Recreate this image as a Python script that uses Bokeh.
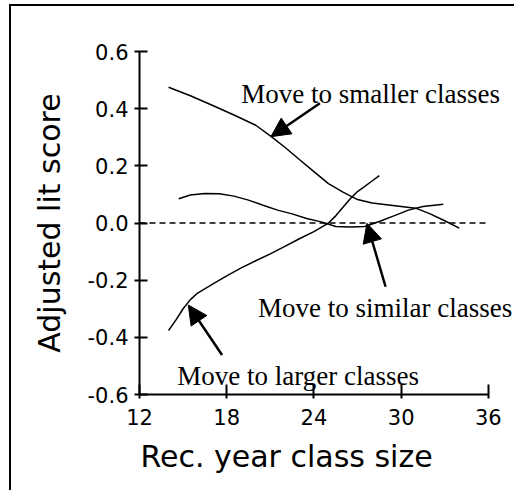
from bokeh.plotting import figure
from bokeh.models import Range1d, FixedTicker, Arrow, NormalHead, Label, Title
from bokeh.embed import file_html
from bokeh.resources import INLINE

# ---- data ----
x_ticks = [12, 18, 24, 30, 36]
y_ticks = [-0.6, -0.4, -0.2, 0.0, 0.2, 0.4, 0.6]
y_tick_labels = ["-0.6", "-0.4", "-0.2", "0.0", "0.2", "0.4", "0.6"]

smaller_x = [14.0, 15.5, 17.0, 18.5, 20.0, 21.0, 22.0, 23.0, 24.0, 25.0, 26.0, 27.0, 28.0, 29.0, 30.0, 31.0, 32.0, 33.0, 34.0]
smaller_y = [0.475, 0.445, 0.412, 0.378, 0.342, 0.305, 0.265, 0.222, 0.180, 0.138, 0.108, 0.082, 0.070, 0.064, 0.058, 0.052, 0.032, 0.008, -0.018]

similar_x = [14.7, 15.5, 16.5, 17.5, 18.5, 19.5, 20.5, 21.5, 22.5, 23.5, 24.5, 25.5, 26.5, 27.5, 28.5, 29.5, 30.5, 31.5, 32.9]
similar_y = [0.085, 0.098, 0.103, 0.102, 0.094, 0.080, 0.062, 0.045, 0.032, 0.016, 0.004, -0.012, -0.014, -0.012, 0.005, 0.025, 0.045, 0.058, 0.066]

larger_x = [14.0, 14.5, 15.0, 15.5, 16.0, 17.0, 18.0, 19.0, 20.0, 21.0, 22.0, 23.0, 24.0, 24.5, 25.0, 25.5, 26.0, 26.5, 27.0, 27.5, 28.0, 28.5]
larger_y = [-0.376, -0.34, -0.30, -0.268, -0.245, -0.215, -0.185, -0.157, -0.132, -0.108, -0.082, -0.055, -0.030, -0.015, 0.0, 0.025, 0.055, 0.085, 0.110, 0.128, 0.147, 0.166]

zero_x = [12, 35.9]
zero_y = [0.0, 0.0]

label_texts = ["Move to smaller classes", "Move to similar classes", "Move to larger classes"]
label_x = [19.0, 20.15, 14.6]
label_y = [0.453, -0.299, -0.537]

arrow_x_start = [24.41, 28.93, 17.68]
arrow_y_start = [0.419, -0.223, -0.462]
arrow_x_end = [21.04, 27.65, 15.36]
arrow_y_end = [0.302, -0.001, -0.287]

x_title = "Rec. year class size"
y_title = "Adjusted lit score"

# ---- figure ----
p = figure(width=505, height=486, output_backend="svg", toolbar_location=None,
           x_range=Range1d(12, 37.8), y_range=Range1d(-0.6, 0.6),
           min_border_left=128, min_border_right=2, min_border_top=45, min_border_bottom=98,
           y_axis_label=y_title)
p.styles = {"border-top": "2px solid black", "border-left": "2px solid black",
            "position": "relative", "left": "9px", "top": "4px"}
p.outline_line_color = None
p.xgrid.visible = False
p.ygrid.visible = False
p.background_fill_color = "white"
p.border_fill_color = "white"

for ax in (p.xaxis[0], p.yaxis[0]):
    ax.axis_line_width = 2
    ax.axis_line_color = "black"
    ax.major_tick_line_width = 2
    ax.major_tick_line_color = "black"
    ax.minor_tick_line_color = None
    ax.major_label_text_font = "DejaVu Sans"
    ax.major_label_text_font_size = "21px"
    ax.major_label_text_color = "black"
    ax.axis_label_text_font = "DejaVu Sans"
    ax.axis_label_text_font_size = "30px"
    ax.axis_label_text_font_style = "normal"
    ax.axis_label_text_color = "black"

p.xaxis.bounds = (12, 36)
p.xaxis.ticker = FixedTicker(ticks=x_ticks)
p.yaxis.ticker = FixedTicker(ticks=y_ticks)
p.yaxis.major_label_overrides = {t: l for t, l in zip(y_ticks, y_tick_labels)}
p.xaxis.major_tick_in = 10
p.xaxis.major_tick_out = 4
p.yaxis.major_tick_in = 8
p.yaxis.major_tick_out = 5
p.xaxis.major_label_standoff = 10
p.yaxis.major_label_standoff = 6
p.yaxis.axis_label_standoff = 18

p.add_layout(Title(text=x_title, align="left", offset=1, standoff=19,
                   text_font="DejaVu Sans", text_font_size="30px",
                   text_font_style="normal", text_color="black"), "below")

p.line(zero_x, zero_y, line_color="black", line_width=1.5, line_dash="6 4")
p.line(smaller_x, smaller_y, line_color="black", line_width=1.5)
p.line(similar_x, similar_y, line_color="black", line_width=1.5)
p.line(larger_x, larger_y, line_color="black", line_width=1.5)

for lx, ly, lt in zip(label_x, label_y, label_texts):
    p.add_layout(Label(x=lx, y=ly, text=lt, text_font="Liberation Serif",
                       text_font_size="27px", text_align="left", text_baseline="alphabetic",
                       text_color="black"))

for xs, ys, xe, ye in zip(arrow_x_start, arrow_y_start, arrow_x_end, arrow_y_end):
    p.add_layout(Arrow(end=NormalHead(size=19, fill_color="black", line_color="black"),
                       x_start=xs, y_start=ys, x_end=xe, y_end=ye,
                       line_width=2.5, line_color="black"))

open("out.html", "w").write(file_html(p, INLINE))
